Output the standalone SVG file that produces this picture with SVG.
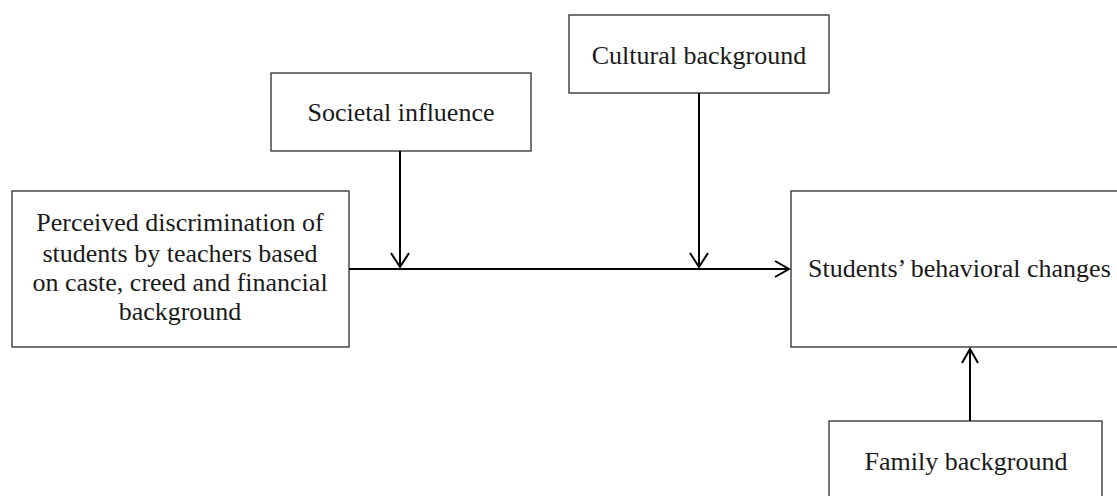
<svg xmlns="http://www.w3.org/2000/svg" width="1117" height="496" viewBox="0 0 1117 496">
<style>
.box{fill:#fff;stroke:#3a3a3a;stroke-width:1.4}
.lbl{font-family:"Liberation Serif","Times New Roman",serif;font-size:26px;fill:#1a1a1a;text-anchor:middle}
.con{stroke:#000;stroke-width:2;fill:none}
.head{stroke:#000;stroke-width:2;fill:none;stroke-linejoin:miter}
</style>
<rect width="1117" height="496" fill="#fff"/>
<g id="node-perceived">
<rect class="box" x="12" y="191" width="337" height="156"/>
<text class="lbl" x="180" y="231">Perceived discrimination of</text>
<text class="lbl" x="180" y="262">students by teachers based</text>
<text class="lbl" x="180" y="291">on caste, creed and financial</text>
<text class="lbl" x="180" y="320">background</text>
</g>
<g id="node-societal">
<rect class="box" x="271" y="73" width="260" height="78"/>
<text class="lbl" x="401" y="121">Societal influence</text>
</g>
<g id="node-cultural">
<rect class="box" x="569" y="15" width="260" height="78"/>
<text class="lbl" x="699" y="64">Cultural background</text>
</g>
<g id="node-students">
<rect class="box" x="791" y="191" width="340" height="156"/>
<text class="lbl" x="808" y="277" style="text-anchor:start">Students’ behavioral changes</text>
</g>
<g id="node-family">
<rect class="box" x="829" y="421" width="273" height="90"/>
<text class="lbl" x="966" y="470">Family background</text>
</g>
<g id="connectors">
<line class="con" x1="349" y1="269" x2="788" y2="269"/>
<polyline class="head" points="775,261 789,269 775,277"/>
<line class="con" x1="400" y1="151" x2="400" y2="267"/>
<polyline class="head" points="391,253 400,267 409,253"/>
<line class="con" x1="699" y1="93" x2="699" y2="267"/>
<polyline class="head" points="690,253 699,267 708,253"/>
<line class="con" x1="970" y1="421" x2="970" y2="349"/>
<polyline class="head" points="962,363 970,349 978,363"/>
</g>
</svg>
